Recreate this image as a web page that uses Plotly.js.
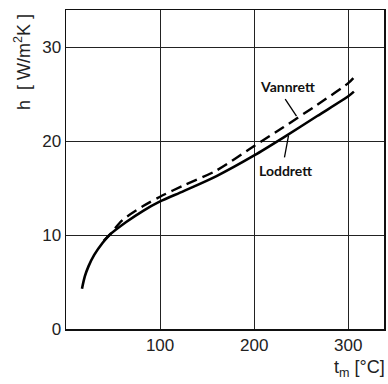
<!DOCTYPE html>
<html>
<head>
<meta charset="utf-8">
<script src="https://cdn.plot.ly/plotly-3.0.1.min.js"></script>
<style>html,body{margin:0;padding:0;background:#fff;}#chart{width:388px;height:384px;}</style>
</head>
<body>
<div id="chart"></div>
<script>
// Loddrett (solid)
const loddrettT = [17, 20, 24, 30, 39, 46, 64, 82, 100, 125, 160, 200, 231, 267, 300, 306];
const loddrettH = [4.3, 5.6, 6.7, 7.9, 9.2, 10.0, 11.4, 12.6, 13.6, 14.7, 16.3, 18.5, 20.4, 22.7, 24.8, 25.3];
// Vannrett (dashed)
const vannrettT = [40, 46, 60, 82, 100, 125, 160, 200, 231, 267, 300, 306];
const vannrettH = [9.4, 10.0, 11.6, 13.1, 14.1, 15.3, 16.9, 19.5, 21.5, 23.9, 26.2, 26.8];

const xTicks = [100, 200, 300];
const xTickText = ['100', '200', '300'];
const yTicks = [0, 10, 20, 30];
const yTickText = ['0', '10', '20', '30'];

const traces = [
  {x: loddrettT, y: loddrettH, mode: 'lines', name: 'Loddrett',
   line: {color: '#000', width: 2.6, shape: 'spline', smoothing: 0.8}},
  {x: vannrettT, y: vannrettH, mode: 'lines', name: 'Vannrett',
   line: {color: '#000', width: 2.4, dash: '11px,6px', shape: 'spline', smoothing: 0.8}}
];

const tickFont = {family: 'Liberation Sans, Arial, sans-serif', size: 17, color: '#222'};

const layout = {
  width: 388, height: 384,
  margin: {l: 66, r: 4, t: 10, b: 55},
  paper_bgcolor: '#fff', plot_bgcolor: '#fff',
  showlegend: false,
  xaxis: {
    range: [0, 338], tickvals: xTicks, ticktext: xTickText,
    showgrid: true, gridcolor: '#222', gridwidth: 1,
    zeroline: false, showline: true, linecolor: '#111', linewidth: 1.5, mirror: true,
    ticks: '', tickfont: tickFont, fixedrange: true
  },
  yaxis: {
    range: [0, 34], tickvals: yTicks, ticktext: yTickText,
    showgrid: true, gridcolor: '#222', gridwidth: 1,
    zeroline: false, showline: true, linecolor: '#111', linewidth: 1.5, mirror: true,
    ticks: '', tickfont: tickFont, fixedrange: true
  },
  shapes: [
    {type: 'line', xref: 'x', yref: 'y', x0: 233, y0: 24.5, x1: 245, y1: 22.7,
     line: {color: '#000', width: 1.3}},
    {type: 'line', xref: 'x', yref: 'y', x0: 236.5, y0: 20.6, x1: 232.2, y1: 18.3,
     line: {color: '#000', width: 1.3}}
  ],
  annotations: [
    {text: 'Vannrett', xref: 'x', yref: 'y', x: 235, y: 25.9, showarrow: false,
     font: {family: 'Lato, sans-serif', size: 14, color: '#111', weight: 'bold'}},
    {text: 'Loddrett', xref: 'x', yref: 'y', x: 233.5, y: 16.9, showarrow: false,
     font: {family: 'Lato, sans-serif', size: 14, color: '#111', weight: 'bold'}},
    {text: 'h  [ W/m<sup>2</sup>K ]', xref: 'paper', yref: 'paper', x: -0.135, y: 0.837,
     textangle: -90, showarrow: false, xanchor: 'center', yanchor: 'middle',
     font: {family: 'Liberation Sans, Arial, sans-serif', size: 18, color: '#222'}},
    {text: 't<sub>m</sub> [°C]', xref: 'paper', yref: 'paper', x: 1.009, y: -0.125,
     showarrow: false, xanchor: 'right', yanchor: 'middle',
     font: {family: 'Liberation Sans, Arial, sans-serif', size: 18, color: '#222'}}
  ]
};

Plotly.newPlot('chart', traces, layout, {displayModeBar: false, staticPlot: true});
</script>
</body>
</html>
